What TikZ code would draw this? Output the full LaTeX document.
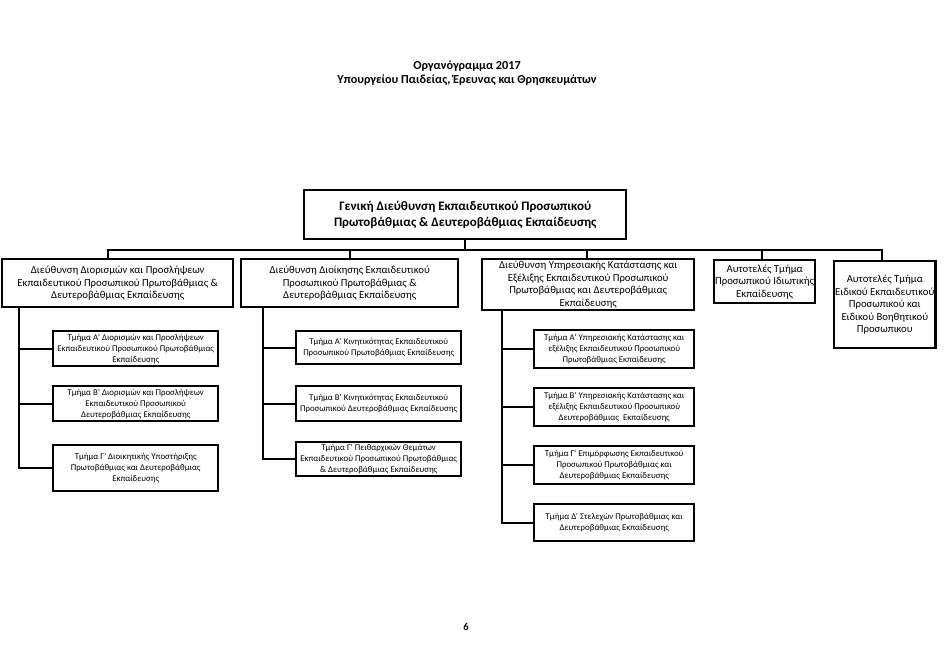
\documentclass[tikz,border=0pt]{standalone}
\usepackage{fontspec}
\setmainfont{Carlito}
\begin{document}
\begin{tikzpicture}[x=1pt,y=-1pt,
  box/.style={draw=black, line width=2.4pt, fill=white, align=center, inner sep=1pt, anchor=north west},
  lvone/.style={box, font=\fontsize{13}{16.5}\selectfont\bfseries},
  lvtwo/.style={box, font=\fontsize{10.7}{12.6}\selectfont},
  sub/.style={box, font=\fontsize{8.8}{11}\selectfont},
  conn/.style={line width=2pt, line cap=rect},
  titletext/.style={align=center, font=\fontsize{12.2}{14}\selectfont\bfseries}]
\useasboundingbox (0,0) rectangle (946,650);
\fill[white] (0,0) rectangle (946,650);

\node[titletext] (title) at (467,73) {Οργανόγραμμα 2017\\Υπουργείου Παιδείας, Έρευνας και Θρησκευμάτων};

\node[lvone, minimum width=322pt, minimum height=49pt] (top) at (303,189)
  {Γενική Διεύθυνση Εκπαιδευτικού Προσωπικού\\Πρωτοβάθμιας \& Δευτεροβάθμιας Εκπαίδευσης};

\node[lvtwo, minimum width=231pt, minimum height=48pt] (b1) at (1,258)
  {Διεύθυνση Διορισμών και Προσλήψεων\\Εκπαιδευτικού Προσωπικού Πρωτοβάθμιας \&\\Δευτεροβάθμιας Εκπαίδευσης};
\node[lvtwo, minimum width=217pt, minimum height=48pt] (b2) at (240,258)
  {Διεύθυνση Διοίκησης Εκπαιδευτικού\\Προσωπικού Πρωτοβάθμιας \&\\Δευτεροβάθμιας Εκπαίδευσης};
\node[lvtwo, minimum width=212pt, minimum height=51pt] (b3) at (481,258)
  {Διεύθυνση Υπηρεσιακής Κατάστασης και\\Εξέλιξης Εκπαιδευτικού Προσωπικού\\Πρωτοβάθμιας και Δευτεροβάθμιας\\Εκπαίδευσης};
\node[lvtwo, minimum width=98pt, minimum height=43pt] (b4) at (713,259)
  {Αυτοτελές Τμήμα\\Προσωπικού Ιδιωτικής\\Εκπαίδευσης};
\node[lvtwo, minimum width=100pt, minimum height=87pt] (b5) at (833,260)
  {Αυτοτελές Τμήμα\\Ειδικού Εκπαιδευτικού\\Προσωπικού και\\Ειδικού Βοηθητικού\\Προσωπικου};

% column 1
\node[sub, minimum width=165pt, minimum height=35pt] (s11) at (52,330)
  {Τμήμα Α' Διορισμών και Προσλήψεων\\Εκπαιδευτικού Προσωπικού Πρωτοβάθμιας\\Εκπαίδευσης};
\node[sub, minimum width=165pt, minimum height=35pt] (s12) at (52,385)
  {Τμήμα Β' Διορισμών και Προσλήψεων\\Εκπαιδευτικού Προσωπικού\\Δευτεροβάθμιας Εκπαίδευσης};
\node[sub, minimum width=165pt, minimum height=46pt] (s13) at (52,444)
  {Τμήμα Γ' Διοικητικής Υποστήριξης\\Πρωτοβάθμιας και Δευτεροβάθμιας\\Εκπαίδευσης};

% column 2
\node[sub, minimum width=165pt, minimum height=33pt] (s21) at (295,330)
  {Τμήμα Α' Κινητικότητας Εκπαιδευτικού\\Προσωπικού Πρωτοβάθμιας Εκπαίδευσης};
\node[sub, minimum width=165pt, minimum height=35pt] (s22) at (295,385)
  {Τμήμα Β' Κινητικότητας Εκπαιδευτικού\\Προσωπικού Δευτεροβάθμιας Εκπαίδευσης};
\node[sub, minimum width=165pt, minimum height=34pt] (s23) at (295,441)
  {Τμήμα Γ' Πειθαρχικών Θεμάτων\\Εκπαιδευτικού Προσωπικού Πρωτοβάθμιας\\\& Δευτεροβάθμιας Εκπαίδευσης};

% column 3
\node[sub, minimum width=160pt, minimum height=38pt] (s31) at (533,329)
  {Τμήμα Α' Υπηρεσιακής Κατάστασης και\\εξέλιξης Εκπαιδευτικού Προσωπικού\\Πρωτοβάθμιας Εκπαίδευσης};
\node[sub, minimum width=160pt, minimum height=38pt] (s32) at (533,387)
  {Τμήμα Β' Υπηρεσιακής Κατάστασης και\\εξέλιξης Εκπαιδευτικού Προσωπικού\\Δευτεροβάθμιας\ \ Εκπαίδευσης};
\node[sub, minimum width=160pt, minimum height=38pt] (s33) at (533,445)
  {Τμήμα Γ' Επιμόρφωσης Εκπαιδευτικού\\Προσωπικού Πρωτοβάθμιας και\\Δευτεροβάθμιας Εκπαίδευσης};
\node[sub, minimum width=160pt, minimum height=37pt] (s34) at (533,503)
  {Τμήμα Δ' Στελεχών Πρωτοβάθμιας και\\Δευτεροβάθμιας Εκπαίδευσης};

\node[font=\fontsize{10.5}{12}\selectfont\bfseries] (page) at (466,627) {6};

% bus
\coordinate (busL) at (108,250);
\coordinate (busR) at (882,250);
\coordinate (c2) at (350,250);
\coordinate (c3) at (587,250);
\coordinate (c4) at (762,250);
\draw[conn] (top.south) -- (top.south |- busL);
\draw[conn] (busL) -- (busR);
\draw[conn] (busL) -- (busL |- b1.north);
\draw[conn] (c2) -- (c2 |- b2.north);
\draw[conn] (c3) -- (c3 |- b3.north);
\draw[conn] (c4) -- (c4 |- b4.north);
\draw[conn] (busR) -- (busR |- b5.north);

% column spines
\coordinate (k1) at (19,0);
\coordinate (k2) at (263,0);
\coordinate (k3) at (502,0);
\draw[conn] (k1 |- b1.south) -- (k1 |- s13.west);
\foreach \s in {s11,s12,s13} \draw[conn] (k1 |- \s.west) -- (\s.west);
\draw[conn] (k2 |- b2.south) -- (k2 |- s23.west);
\foreach \s in {s21,s22,s23} \draw[conn] (k2 |- \s.west) -- (\s.west);
\draw[conn] (k3 |- b3.south) -- (k3 |- s34.west);
\foreach \s in {s31,s32,s33,s34} \draw[conn] (k3 |- \s.west) -- (\s.west);
\end{tikzpicture}
\end{document}
